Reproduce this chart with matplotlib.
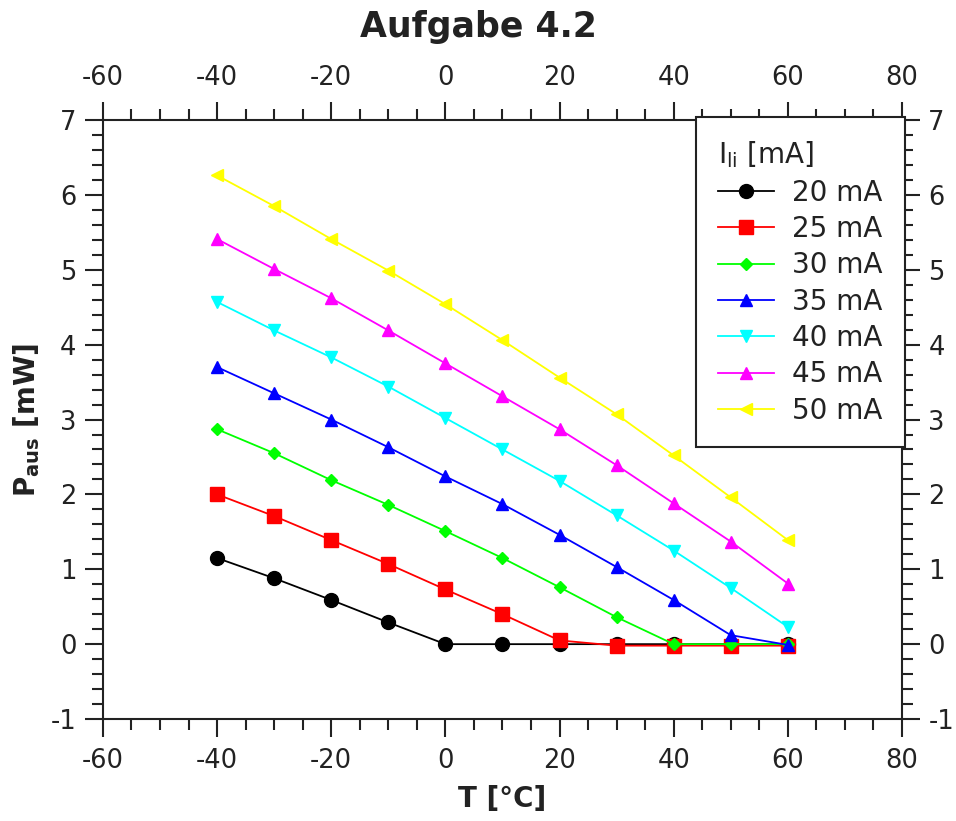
import numpy as np
import matplotlib
matplotlib.use("Agg")
import matplotlib.pyplot as plt
from matplotlib.ticker import MultipleLocator

# temperatures in degC
temps = [-40, -30, -20, -10, 0, 10, 20, 30, 40, 50, 60]

# output power in mW per laser current
p_20 = [1.15, 0.88, 0.59, 0.29, 0.0, 0.0, 0.0, 0.0, 0.0, 0.0, 0.0]
p_25 = [2.00, 1.71, 1.39, 1.07, 0.73, 0.40, 0.05, -0.02, -0.02, -0.02, -0.02]
p_30 = [2.87, 2.55, 2.19, 1.86, 1.51, 1.15, 0.76, 0.36, 0.0, 0.0, 0.0]
p_35 = [3.70, 3.35, 3.00, 2.63, 2.24, 1.87, 1.46, 1.03, 0.59, 0.12, -0.01]
p_40 = [4.57, 4.19, 3.83, 3.44, 3.02, 2.60, 2.18, 1.72, 1.25, 0.75, 0.23]
p_45 = [5.41, 5.01, 4.62, 4.19, 3.75, 3.31, 2.87, 2.39, 1.88, 1.37, 0.81]
p_50 = [6.26, 5.85, 5.41, 4.99, 4.54, 4.06, 3.56, 3.07, 2.52, 1.96, 1.39]

labels = ["20 mA", "25 mA", "30 mA", "35 mA", "40 mA", "45 mA", "50 mA"]
series = [p_20, p_25, p_30, p_35, p_40, p_45, p_50]

colors = ["#000000", "#ff0000", "#00ff00", "#0000ff", "#00ffff", "#ff00ff", "#ffff00"]
markers = ["o", "s", "D", "^", "v", "^", "<"]
msizes = [10, 10, 6, 8.5, 8.5, 8.5, 8.5]

txt = "#222222"
plt.rcParams["font.family"] = ["DejaVu Sans"]
plt.rcParams["axes.unicode_minus"] = False

fig = plt.figure(figsize=(9.56, 8.21), dpi=100)
ax = fig.add_axes([0.1077, 0.1242, 0.8358, 0.7296])

for y, lab, c, m, ms in zip(series, labels, colors, markers, msizes):
    ax.plot(temps, y, color=c, marker=m, markersize=ms, linewidth=1.3,
            label=lab, clip_on=False)

ax.set_xlim(-60, 80)
ax.set_ylim(-1, 7)
ax.xaxis.set_major_locator(MultipleLocator(20))
ax.xaxis.set_minor_locator(MultipleLocator(5))
ax.yaxis.set_major_locator(MultipleLocator(1))
ax.yaxis.set_minor_locator(MultipleLocator(0.2))

ax.tick_params(which="both", direction="out", top=True, right=True,
               labeltop=True, labelright=True, width=1.5, colors="#222222",
               labelcolor=txt, labelsize=18.5)
ax.tick_params(which="major", length=13)
ax.tick_params(which="minor", length=8)
ax.tick_params(axis="x", which="major", pad=8)
ax.tick_params(axis="y", which="major", pad=6)
for s in ax.spines.values():
    s.set_linewidth(1.5)
    s.set_color("#222222")

ax.set_xlabel("T [°C]", fontsize=20, fontweight="bold", color=txt, labelpad=8)
ax.set_ylabel(r"P$_{\mathregular{aus}}$ [mW]", fontsize=20, fontweight="bold",
              color=txt, labelpad=6)
fig.suptitle("Aufgabe 4.2", fontsize=25, fontweight="bold", color=txt, y=0.988)

leg = ax.legend(title=r"I$_{\mathregular{li}}$ [mA]", loc="upper right",
                fontsize=20, title_fontsize=20, frameon=True, fancybox=False,
                borderaxespad=-0.1, handlelength=2.0, handletextpad=0.65,
                labelspacing=0.3, borderpad=0.8)
leg._legend_box.align = "left"
leg.get_frame().set_edgecolor("#222222")
leg.get_frame().set_linewidth(1.5)
leg.get_frame().set_alpha(1)
for t in leg.get_texts():
    t.set_color(txt)
leg.get_title().set_color(txt)

fig.savefig("out.png", dpi=100)
